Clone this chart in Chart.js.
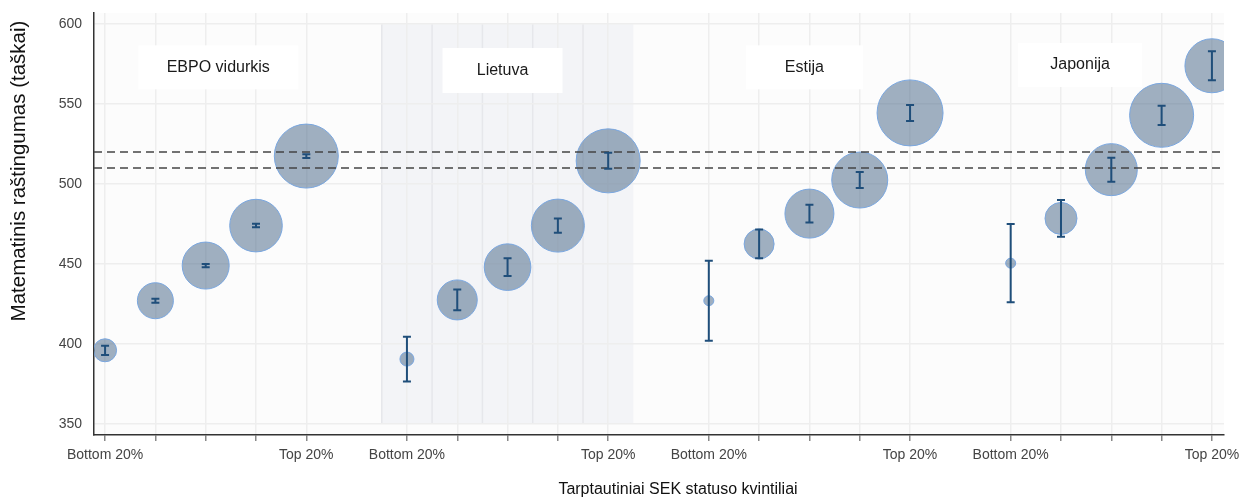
<!DOCTYPE html>
<html lang="lt">
  <head>
    <title>Matematinis raštingumas pagal SEK kvintilius</title>
    <meta charset="utf-8">
    <script src="https://cdn.jsdelivr.net/npm/chart.js@4.4.1/dist/chart.umd.min.js"></script>
    <style>
      body { margin: 0; background: #fff; }
    </style>
  </head>
  <body>
    <canvas id="myChart1" width="1241" height="498"></canvas>
  </body>
  <script>
    // grupės: EBPO vidurkis, Lietuva, Estija, Japonija (po 5 kvintilius)
    var groups = ['EBPO vidurkis', 'Lietuva', 'Estija', 'Japonija'];
    var positions = [0, 1, 2, 3, 4, 6, 7, 8, 9, 10, 12, 13, 14, 15, 16, 18, 19, 20, 21, 22];
    var tickLabels = ['Bottom 20%', '', '', '', 'Top 20%',
                      'Bottom 20%', '', '', '', 'Top 20%',
                      'Bottom 20%', '', '', '', 'Top 20%',
                      'Bottom 20%', '', '', '', 'Top 20%'];
    var scores = [396, 427, 449, 474, 517.5,
                  390.5, 427.5, 448, 474, 514.5,
                  427, 462.5, 481.5, 502.5, 544.5,
                  450.5, 478.5, 509, 543, 574];
    var errors = [2.9, 1.3, 1, 1.1, 1.2,
                  14, 6.5, 5.5, 4.5, 5,
                  25, 9, 5.5, 5, 5,
                  24.5, 11.5, 7.5, 6, 9];
    var sizes = [11.5, 18, 23.5, 26.3, 32,
                 7, 20, 23.3, 26.5, 32,
                 5, 15, 24.5, 28, 33,
                 5, 16, 26, 32, 27];
    var refLines = [520, 510];
    var yTicks = [350, 400, 450, 500, 550, 600];

    var font = 'Liberation Sans';

    var bubbles = positions.map(function(p, i) {
        return { x: p, y: scores[i], r: sizes[i] };
    });

    var decor = {
        id: 'decor',
        beforeDraw: function(chart) {
            var ctx = chart.ctx, a = chart.chartArea;
            var xs = chart.scales.x, ys = chart.scales.y;
            ctx.save();
            ctx.fillStyle = '#fcfcfc';
            ctx.fillRect(a.left, a.top, a.right - a.left, a.bottom - a.top);
            // Lietuvos fonas
            var x0 = xs.getPixelForValue(positions[5] - 0.5);
            var x1 = xs.getPixelForValue(positions[9] + 0.5);
            var y0 = ys.getPixelForValue(yTicks[yTicks.length - 1]);
            var y1 = ys.getPixelForValue(yTicks[0]);
            ctx.fillStyle = '#f3f4f7';
            ctx.fillRect(x0, y0, x1 - x0, y1 - y0);
            ctx.strokeStyle = '#e6e7eb';
            ctx.lineWidth = 1.5;
            for (var i = 5; i <= 9; i++) {
                var px = xs.getPixelForValue(positions[i] - 0.5);
                ctx.beginPath();
                ctx.moveTo(px, y0);
                ctx.lineTo(px, y1);
                ctx.stroke();
            }
            ctx.restore();
        },
        beforeDatasetsDraw: function(chart, args, opts) {
            var ctx = chart.ctx;
            var xs = chart.scales.x, ys = chart.scales.y;
            ctx.save();
            ctx.font = '16px "' + font + '"';
            ctx.textAlign = 'center';
            ctx.textBaseline = 'middle';
            opts.boxes.forEach(function(b, i) {
                var cx = xs.getPixelForValue(b.x), cy = ys.getPixelForValue(b.y);
                ctx.fillStyle = '#ffffff';
                ctx.fillRect(cx - b.w / 2, cy - b.h / 2, b.w, b.h);
                ctx.fillStyle = '#1a1a1a';
                ctx.fillText(groups[i], cx, cy);
            });
            ctx.restore();
        },
        afterDatasetsDraw: function(chart) {
            var ctx = chart.ctx, a = chart.chartArea;
            var xs = chart.scales.x, ys = chart.scales.y;
            ctx.save();
            // EBPO vidurkio ribos
            ctx.strokeStyle = '#444';
            ctx.lineWidth = 1.5;
            ctx.setLineDash([8, 5]);
            refLines.forEach(function(v) {
                var py = ys.getPixelForValue(v);
                ctx.beginPath();
                ctx.moveTo(a.left, py);
                ctx.lineTo(a.right, py);
                ctx.stroke();
            });
            ctx.setLineDash([]);
            // paklaidos
            ctx.strokeStyle = '#1f4e7a';
            ctx.lineWidth = 2;
            positions.forEach(function(p, i) {
                var px = xs.getPixelForValue(p);
                var top = ys.getPixelForValue(scores[i] + errors[i]);
                var bot = ys.getPixelForValue(scores[i] - errors[i]);
                ctx.beginPath();
                ctx.moveTo(px, top); ctx.lineTo(px, bot);
                ctx.moveTo(px - 4, top); ctx.lineTo(px + 4, top);
                ctx.moveTo(px - 4, bot); ctx.lineTo(px + 4, bot);
                ctx.stroke();
            });
            ctx.restore();
        },
        afterDraw: function(chart) {
            var ctx = chart.ctx;
            ctx.save();
            ctx.fillStyle = '#111';
            ctx.textAlign = 'center';
            ctx.textBaseline = 'middle';
            ctx.font = '16px "' + font + '"';
            ctx.fillText('Tarptautiniai SEK statuso kvintiliai', 678, 490);
            ctx.translate(19, 171);
            ctx.rotate(-Math.PI / 2);
            ctx.font = '20.5px "' + font + '"';
            ctx.fillText('Matematinis raštingumas (taškai)', 0, 0);
            ctx.restore();
        }
    };

    var ctx = document.getElementById('myChart1').getContext('2d');
    var myChart1 = new Chart(ctx, {
        type: 'bubble',
        data: {
            datasets: [{
                label: 'Vidutiniai rezultatai',
                data: bubbles,
                backgroundColor: 'rgba(66, 98, 132, 0.5)',
                borderColor: '#7aa7e0',
                borderWidth: 1
            }]
        },
        options: {
            responsive: false,
            animation: false,
            events: [],
            layout: { autoPadding: false, padding: { top: 13, right: 17, left: 0, bottom: 0 } },
            plugins: {
                legend: { display: false },
                tooltip: { enabled: false },
                decor: {
                    boxes: [
                        { x: 2.25, y: 573, w: 160, h: 44 },
                        { x: 7.9, y: 571, w: 120, h: 45 },
                        { x: 13.9, y: 573, w: 117, h: 44 },
                        { x: 19.38, y: 574.5, w: 124, h: 44 }
                    ]
                }
            },
            scales: {
                x: {
                    type: 'linear',
                    min: -0.22,
                    max: 22.24,
                    afterBuildTicks: function(s) {
                        s.ticks = positions.map(function(p) { return { value: p }; });
                    },
                    afterFit: function(s) {
                        s.height = 63;
                        s.paddingLeft = 0;
                        s.paddingRight = 0;
                    },
                    grid: { color: '#eeeeee', lineWidth: 1.5, tickLength: 6, tickColor: '#888' },
                    border: { color: '#333', width: 1.5 },
                    ticks: {
                        autoSkip: false,
                        maxRotation: 0,
                        padding: 6,
                        color: '#444',
                        font: { family: font, size: 14 },
                        callback: function(v, i) { return tickLabels[i]; }
                    }
                },
                y: {
                    min: 343,
                    max: 607,
                    afterBuildTicks: function(s) {
                        s.ticks = yTicks.map(function(v) { return { value: v }; });
                    },
                    afterFit: function(s) {
                        s.width = 94;
                        s.paddingTop = 0;
                        s.paddingBottom = 0;
                    },
                    grid: { color: '#eeeeee', lineWidth: 1.5, drawTicks: false },
                    border: { color: '#333', width: 1.5 },
                    ticks: { padding: 12, color: '#444', font: { family: font, size: 14 } }
                }
            }
        },
        plugins: [decor]
    });
  </script>
</html>
